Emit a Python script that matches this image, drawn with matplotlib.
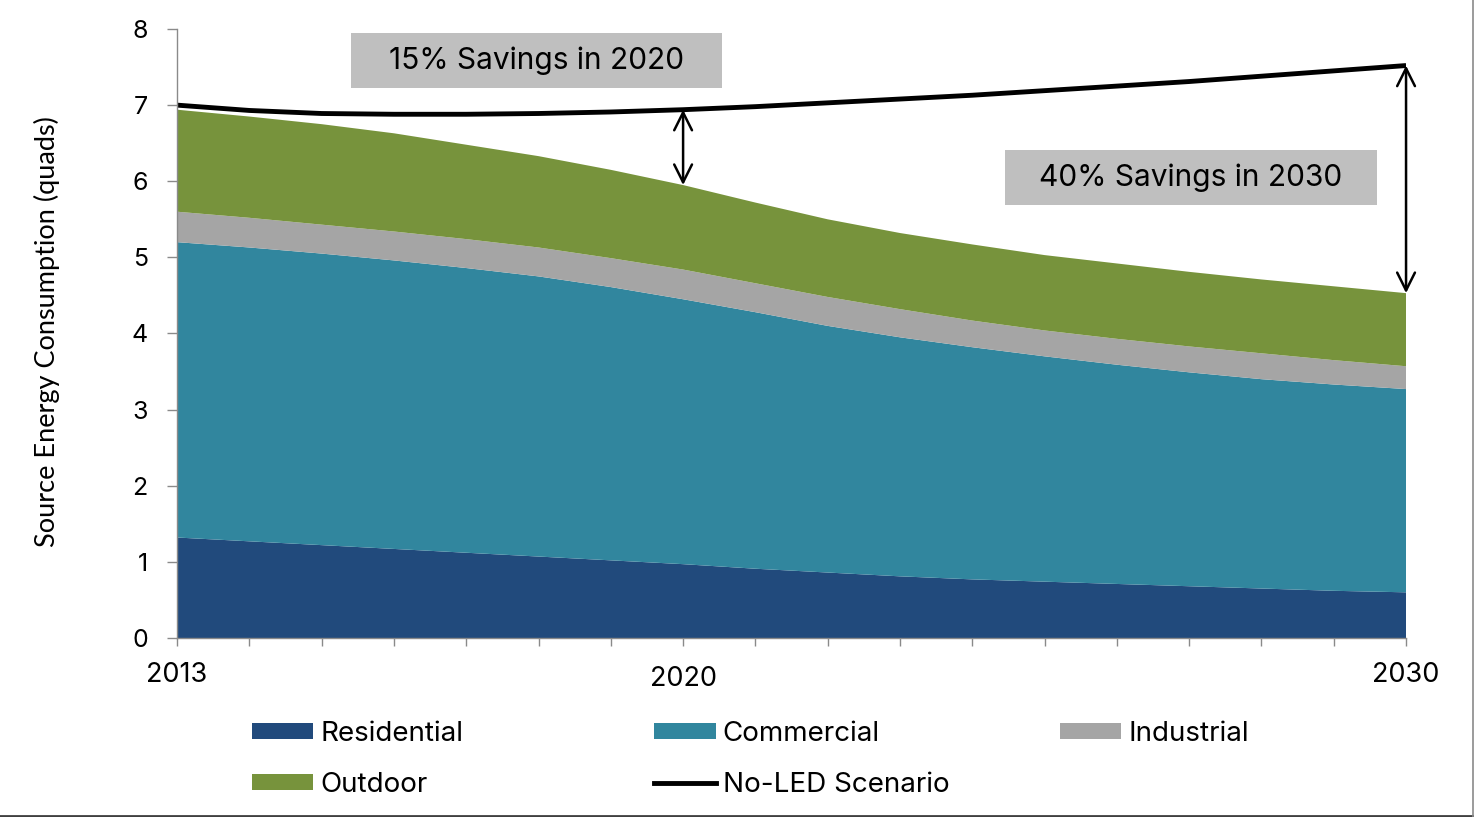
import matplotlib.pyplot as plt
from matplotlib.lines import Line2D
from matplotlib.patches import Patch, Rectangle
from matplotlib.transforms import ScaledTranslation

years = list(range(2013, 2031))

# lighting energy by sector, quads (stacked layers)
residential = [1.32, 1.27, 1.22, 1.17, 1.12, 1.07, 1.02, 0.97, 0.91,
               0.86, 0.81, 0.77, 0.74, 0.71, 0.68, 0.65, 0.62, 0.60]
commercial = [3.88, 3.86, 3.83, 3.79, 3.74, 3.68, 3.59, 3.48, 3.37,
              3.24, 3.14, 3.05, 2.96, 2.88, 2.81, 2.75, 2.71, 2.67]
industrial = [0.40, 0.39, 0.38, 0.38, 0.38, 0.38, 0.38, 0.39, 0.38,
              0.38, 0.37, 0.35, 0.34, 0.34, 0.34, 0.34, 0.32, 0.30]
outdoor = [1.34, 1.33, 1.32, 1.29, 1.24, 1.20, 1.16, 1.11, 1.06,
           1.02, 1.00, 1.00, 0.99, 0.99, 0.98, 0.97, 0.97, 0.96]
no_led = [7.00, 6.93, 6.89, 6.88, 6.88, 6.89, 6.91, 6.94, 6.98,
          7.03, 7.08, 7.13, 7.19, 7.25, 7.31, 7.38, 7.45, 7.52]

sectors = ["Residential", "Commercial", "Industrial", "Outdoor"]
colors = ["#214a7c", "#31869e", "#a5a5a5", "#77933c"]
tick_years = [2013, 2020, 2030]

FONT = "Inter"

fig = plt.figure(figsize=(14.74, 8.17), dpi=100)
ax = fig.add_axes([0.1201, 0.2191, 0.8338, 0.7454])

ax.stackplot(years, residential, commercial, industrial, outdoor,
             colors=colors, linewidth=0)
ax.plot(years, no_led, color="black", lw=3.5, solid_capstyle="butt")

ax.set_xlim(2013, 2030)
ax.set_ylim(0, 8)
ax.set_xticks(years)
ax.set_xticklabels([str(y) if y in tick_years else "" for y in years])
ax.set_yticks(range(0, 9))

for side in ("top", "right"):
    ax.spines[side].set_visible(False)
for side in ("left", "bottom"):
    ax.spines[side].set_color("#8a8a8a")
    ax.spines[side].set_linewidth(1.0)

ax.tick_params(axis="y", direction="out", length=7, width=1, color="#8a8a8a",
               pad=14, labelsize=18)
ax.tick_params(axis="x", direction="out", length=6, width=1, color="#8a8a8a",
               pad=11, labelsize=19.5)
for lab in ax.get_xticklabels() + ax.get_yticklabels():
    lab.set_fontfamily(FONT)
# the middle year label sits a little lower
for lab in ax.get_xticklabels():
    if lab.get_text() == "2020":
        lab.set_transform(lab.get_transform()
                          + ScaledTranslation(0, -3.5 / 72, fig.dpi_scale_trans))

ax.set_ylabel("Source Energy Consumption (quads)", fontsize=19.5,
              fontfamily="Lato")
ax.yaxis.set_label_coords(-0.095, 0.504)

# savings arrows between the no-LED line and the stacked total
totals = [r + c + i + o for r, c, i, o in
          zip(residential, commercial, industrial, outdoor)]
for yr in (2020, 2030):
    k = years.index(yr)
    ax.annotate("", xy=(yr, totals[k]), xytext=(yr, no_led[k]),
                arrowprops=dict(arrowstyle="<->", lw=1.8, color="black",
                                mutation_scale=32, shrinkA=0, shrinkB=0))

# grey label boxes
boxes = [
    ((2015.41, 7.22), 5.13, 0.73, "15% Savings in 2020"),
    ((2024.45, 5.69), 5.15, 0.72, "40% Savings in 2030"),
]
for (x0, y0), w, h, txt in boxes:
    ax.add_patch(Rectangle((x0, y0), w, h, facecolor="#bfbfbf",
                           edgecolor="none", clip_on=False, zorder=3))
    ax.text(x0 + w / 2, y0 + h / 2, txt, ha="center", va="center",
            fontsize=21.5, fontfamily=FONT, zorder=4)

# legend, laid out as three columns
handles = [Patch(facecolor=c, edgecolor="none") for c in colors]
line_handle = Line2D([], [], color="black", lw=3.5)
columns = [
    (0.171, [handles[0], handles[3]], ["Residential", "Outdoor"]),
    (0.444, [handles[1], line_handle], ["Commercial", "No-LED Scenario"]),
    (0.719, [handles[2]], ["Industrial"]),
]
for x, hs, ls in columns:
    fig.legend(hs, ls, loc="upper left", bbox_to_anchor=(x, 0.118),
               bbox_transform=fig.transFigure, frameon=False,
               prop={"family": FONT, "size": 20}, handlelength=2.2,
               handleheight=0.52, handletextpad=0.26, labelspacing=0.9,
               borderpad=0, borderaxespad=0)

# thin frame lines on the right and bottom edges
fig.add_artist(Line2D([0, 0.9993], [0.0015, 0.0015], transform=fig.transFigure,
                      color="#404040", lw=2))
fig.add_artist(Line2D([0.9993, 0.9993], [0, 1], transform=fig.transFigure,
                      color="#8a8a8a", lw=1.2))

fig.savefig("out.png", dpi=100)
